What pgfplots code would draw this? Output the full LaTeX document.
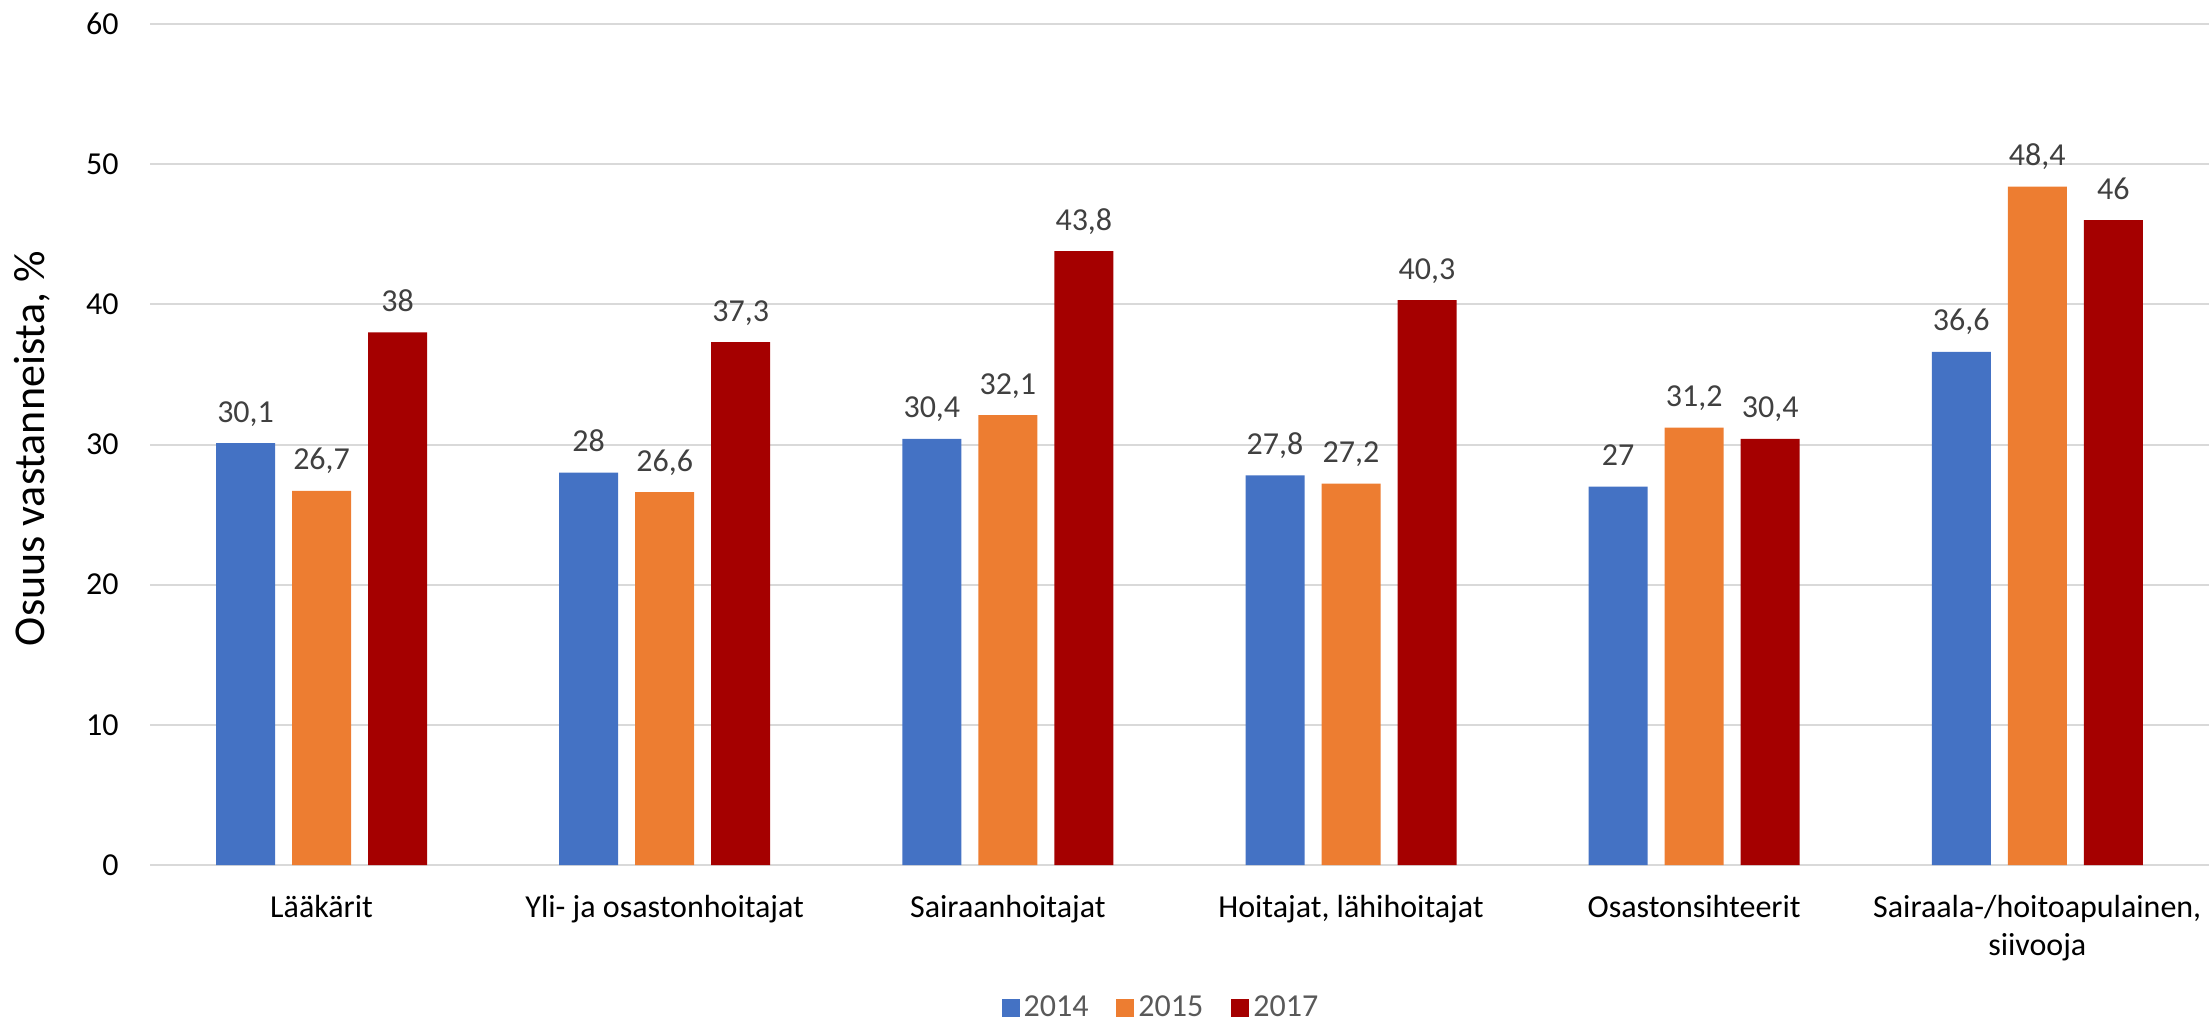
\documentclass[border=0pt]{standalone}
\usepackage{fontspec}
\setmainfont{Carlito}
\usepackage{pgfplots}
\pgfplotsset{compat=1.18}

\definecolor{c2014}{HTML}{4472C4}
\definecolor{c2015}{HTML}{ED7D31}
\definecolor{c2017}{HTML}{A50000}
\definecolor{gridgrey}{HTML}{D9D9D9}
\definecolor{labgrey}{HTML}{404040}
\definecolor{leggrey}{HTML}{595959}

\begin{document}
\begin{tikzpicture}
\path[use as bounding box] (0,0) rectangle (1104.5pt,511pt);
\begin{axis}[
  at={(75pt,78.5pt)}, anchor=south west,
  scale only axis,
  width=1029.5pt, height=420.5pt,
  ybar=8.5pt,
  bar width=29.5pt,
  xmin=-0.5, xmax=5.5,
  ymin=0, ymax=60,
  ytick={0,10,...,60},
  xtick=data,
  xticklabels={L\"a\"ak\"arit, Yli- ja osastonhoitajat, Sairaanhoitajat,
    {Hoitajat, l\"ahihoitajat}, Osastonsihteerit,
    {Sairaala-/hoitoapulainen,\\siivooja}},
  major tick length=0pt,
  tick style={draw=none},
  axis line style={draw=none},
  ymajorgrids,
  grid style={draw=gridgrey, line width=1pt},
  /pgf/number format/assume math mode=true,
  yticklabel style={font=\fontsize{16}{19}\selectfont, anchor=east,
    inner sep=0pt, xshift=-15.5pt},
  xticklabel style={font=\fontsize{16}{19}\selectfont, anchor=north,
    inner sep=0pt, yshift=-15pt, align=center},
  ylabel={Osuus vastanneista, \%},
  every axis y label/.style={at={(axis description cs:-0.0573,0.495)},
    rotate=90, anchor=center, font=\fontsize{22}{26}\selectfont},
  nodes near coords={\pgfmathprintnumber[assume math mode=true,use comma]{\pgfplotspointmeta}},
  every node near coord/.append style={font=\fontsize{16}{19}\selectfont,
    text=labgrey, anchor=base, inner sep=0pt, yshift=10.5pt},
  legend columns=-1,
  legend style={at={(0.4915,-0.170)}, anchor=center, draw=none,
    font=\fontsize{16}{19}\selectfont, text=leggrey,
    /tikz/every even column/.append style={column sep=12pt}},
  legend image code/.code={\fill[#1] (0pt,-4.5pt) rectangle (9pt,4.5pt);},
]
\addplot[fill=c2014, draw=none]
  coordinates {(0,30.1) (1,28) (2,30.4) (3,27.8) (4,27) (5,36.6)};
\addplot[fill=c2015, draw=none]
  coordinates {(0,26.7) (1,26.6) (2,32.1) (3,27.2) (4,31.2) (5,48.4)};
\addplot[fill=c2017, draw=none]
  coordinates {(0,38) (1,37.3) (2,43.8) (3,40.3) (4,30.4) (5,46)};
\legend{2014,2015,2017}
\end{axis}
\end{tikzpicture}
\end{document}
